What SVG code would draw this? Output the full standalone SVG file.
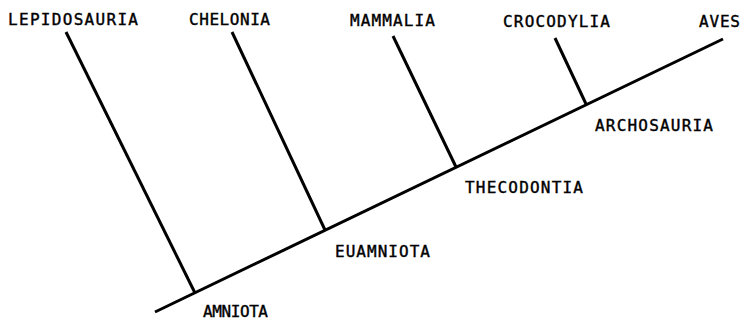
<svg xmlns="http://www.w3.org/2000/svg" width="743" height="321" viewBox="0 0 743 321">
<style>
.ln{stroke:#000;stroke-width:3;stroke-linecap:butt;fill:none}
.t{font-family:"DejaVu Sans Mono","Liberation Mono",monospace;font-size:16px;fill:#000;stroke:#000;stroke-width:0.4}
</style>
<rect width="743" height="321" fill="#fff"/>
<g id="connectors">
<line class="ln" x1="155" y1="312" x2="723" y2="39"/>
<line class="ln" x1="66" y1="32" x2="195" y2="293"/>
<line class="ln" x1="232" y1="32" x2="325" y2="230"/>
<line class="ln" x1="393" y1="36" x2="456" y2="167"/>
<line class="ln" x1="555" y1="38" x2="586" y2="104"/>
</g>
<g id="lepidosauria"><text class="t" x="8" y="25" textLength="130" lengthAdjust="spacing">LEPIDOSAURIA</text></g>
<g id="chelonia"><text class="t" x="189" y="25" textLength="81" lengthAdjust="spacing">CHELONIA</text></g>
<g id="mammalia"><text class="t" x="350" y="26" textLength="85" lengthAdjust="spacing">MAMMALIA</text></g>
<g id="crocodylia"><text class="t" x="503" y="27" textLength="107" lengthAdjust="spacing">CROCODYLIA</text></g>
<g id="aves"><text class="t" x="699" y="27" textLength="41" lengthAdjust="spacing">AVES</text></g>
<g id="amniota"><text class="t" x="203" y="317" textLength="65" lengthAdjust="spacing">AMNIOTA</text></g>
<g id="euamniota"><text class="t" x="335" y="257" textLength="95" lengthAdjust="spacing">EUAMNIOTA</text></g>
<g id="thecodontia"><text class="t" x="465" y="193" textLength="118" lengthAdjust="spacing">THECODONTIA</text></g>
<g id="archosauria"><text class="t" x="595" y="131" textLength="118" lengthAdjust="spacing">ARCHOSAURIA</text></g>
</svg>
